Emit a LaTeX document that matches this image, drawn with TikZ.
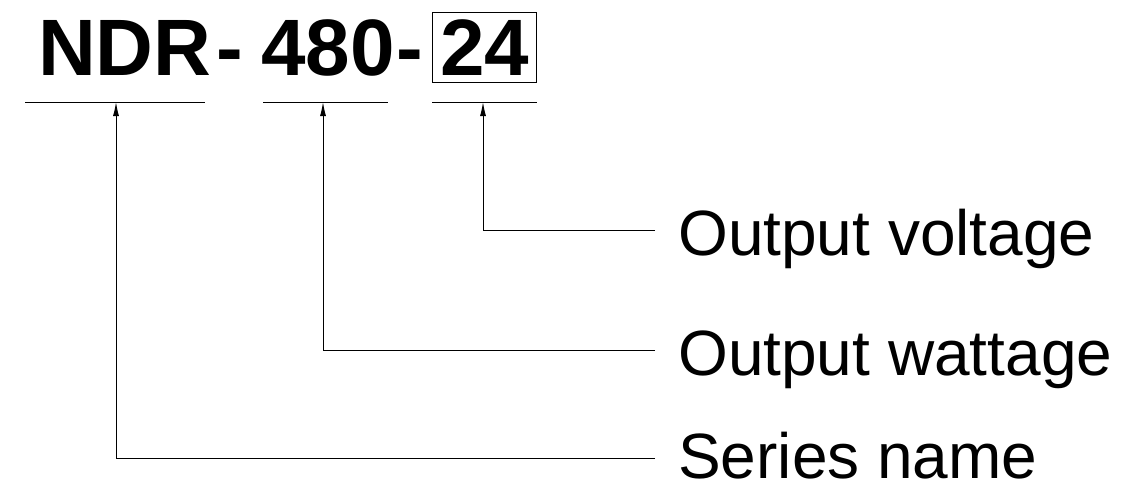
\documentclass[tikz,border=0pt]{standalone}
\usepackage{fontspec}
\setmainfont{Liberation Sans}
\usetikzlibrary{arrows.meta}
\begin{document}
\begin{tikzpicture}[x=1pt,y=-1pt,
  big/.style={font=\fontsize{80}{80}\selectfont\bfseries,inner sep=0pt,anchor=base west},
  lab/.style={font=\fontsize{64}{64}\selectfont,inner sep=0pt,anchor=base west},
  ln/.style={line width=1pt},
  arr/.style={ln,-{Latex[length=14pt,width=6pt]}}]
\useasboundingbox (0,0) rectangle (1121,501);
\node[big] (ndr) at (38,75) {NDR};
\node[big] (d1) at (216,75) {-};
\node[big] (w) at (261,75) {480};
\node[big] (d2) at (396,75) {-};
\node[big] (v) at (440,75) {24};
\draw[ln] (432,12) rectangle (536,82);
\coordinate (u1a) at (25,102); \coordinate (u1b) at (205,102);
\coordinate (u2a) at (263,102); \coordinate (u2b) at (388,102);
\coordinate (u3a) at (432,102); \coordinate (u3b) at (537,102);
\draw[ln] (u1a) -- (u1b); \draw[ln] (u2a) -- (u2b); \draw[ln] (u3a) -- (u3b);
\node[lab] (ov) at (678,255) {Output voltage};
\node[lab] (ow) at (678,375) {Output wattage};
\node[lab] (sn) at (678,478) {Series name};
\coordinate (e1) at (655,230); \coordinate (e2) at (655,350); \coordinate (e3) at (655,458);
\draw[arr] (e1) -- (483,230) -- (483,102);
\draw[arr] (e2) -- (323,350) -- (323,102);
\draw[arr] (e3) -- (116,458) -- (116,102);
\end{tikzpicture}
\end{document}
